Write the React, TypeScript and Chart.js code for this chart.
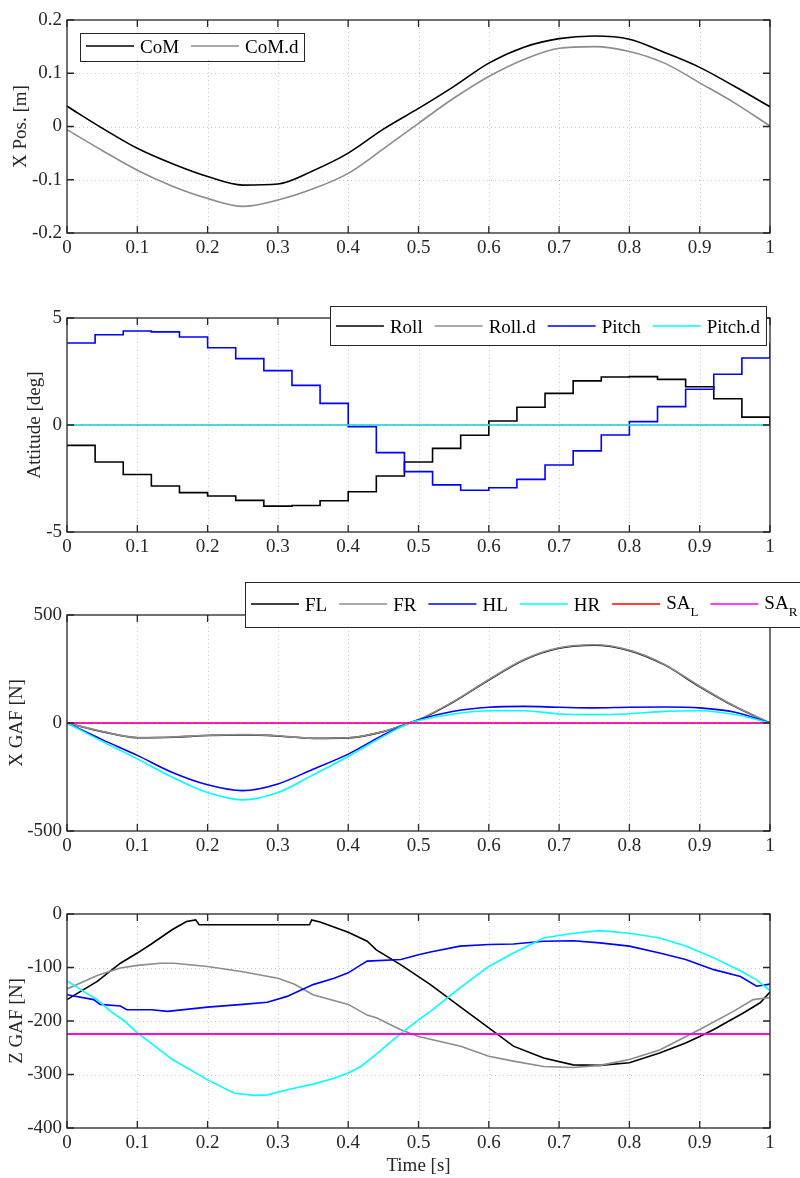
import React, { useEffect, useRef } from "react";
import { Chart, registerables } from "chart.js";

Chart.register(...registerables);

const FONT = '"Liberation Serif", "Times New Roman", Times, serif';
const INK = "#262626";

// ---------------- shared x axis ----------------
const timeTickLabels = ["0", "0.1", "0.2", "0.3", "0.4", "0.5", "0.6", "0.7", "0.8", "0.9", "1"];

// ---------------- panel 1 : X position ----------------
const comTime = [0, 0.05, 0.1, 0.15, 0.2, 0.25, 0.3, 0.35, 0.4, 0.45, 0.5, 0.55, 0.6, 0.65, 0.7, 0.75, 0.8, 0.85, 0.9, 0.95, 1];
const comActual = [0.038, -0.003, -0.041, -0.070, -0.094, -0.110, -0.108, -0.083, -0.050, -0.005, 0.034, 0.075, 0.119, 0.149, 0.165, 0.170, 0.164, 0.139, 0.111, 0.075, 0.037];
const comDesired = [-0.006, -0.045, -0.082, -0.112, -0.135, -0.150, -0.138, -0.117, -0.088, -0.042, 0.006, 0.053, 0.094, 0.126, 0.147, 0.150, 0.141, 0.119, 0.082, 0.044, 0.001];
const posTickLabels = ["-0.2", "-0.1", "0", "0.1", "0.2"];

// ---------------- panel 2 : attitude ----------------
const stepTime = [0, 0.04, 0.08, 0.12, 0.16, 0.2, 0.24, 0.28, 0.32, 0.36, 0.4, 0.44, 0.48, 0.52, 0.56, 0.6, 0.64, 0.68, 0.72, 0.76, 0.8, 0.84, 0.88, 0.92, 0.96, 1];
const roll = [-0.95, -1.73, -2.31, -2.85, -3.16, -3.32, -3.52, -3.79, -3.76, -3.54, -3.12, -2.38, -1.73, -1.09, -0.48, 0.19, 0.83, 1.48, 2.06, 2.24, 2.26, 2.13, 1.79, 1.23, 0.37, 0.0];
const pitch = [3.83, 4.22, 4.39, 4.35, 4.11, 3.61, 3.10, 2.54, 1.85, 1.01, -0.08, -1.29, -2.18, -2.80, -3.05, -2.93, -2.54, -1.87, -1.21, -0.47, 0.16, 0.86, 1.67, 2.37, 3.13, 3.85];
const refTime = [0, 1];
const rollDesired = [0, 0];
const pitchDesired = [0, 0];
const attTickLabels = ["-5", "0", "5"];

// ---------------- panel 3 : X GAF ----------------
const gafXTime = [0, 0.05, 0.1, 0.15, 0.2, 0.25, 0.3, 0.35, 0.4, 0.45, 0.487, 0.5, 0.55, 0.6, 0.65, 0.7, 0.75, 0.8, 0.85, 0.9, 0.95, 1];
const gafXFL = [0, -40, -68, -66, -58, -55, -60, -71, -69, -40, 0, 14, 98, 199, 292, 346, 360, 335, 269, 168, 76, 0];
const gafXFR = [0, -39, -67, -65, -57, -54, -59, -70, -68, -39, 0, 15, 100, 201, 294, 348, 362, 337, 271, 170, 77, 0];
const gafXHL = [0, -77, -150, -229, -286, -313, -282, -214, -144, -55, 0, 15, 54, 73, 77, 73, 70, 73, 74, 70, 50, 0];
const gafXHR = [0, -85, -166, -251, -322, -356, -322, -240, -155, -62, 0, 12, 42, 57, 57, 42, 39, 43, 54, 57, 39, 0];
const gafXSATime = [0, 1];
const gafXSAL = [0, 0];
const gafXSAR = [0, 0];
const gafXTickLabels = ["-500", "0", "500"];

// ---------------- panel 4 : Z GAF ----------------
const zFLTime = [0, 0.043, 0.076, 0.1, 0.12, 0.15, 0.17, 0.183, 0.188, 0.345, 0.348, 0.36, 0.4, 0.427, 0.44, 0.475, 0.517, 0.559, 0.6, 0.635, 0.678, 0.72, 0.758, 0.8, 0.843, 0.88, 0.9, 0.92, 0.962, 0.986, 1];
const zFL = [-160, -126, -92, -73, -56, -29, -14, -11, -20, -20, -11, -15, -34, -51, -67, -95, -132, -173, -213, -247, -269, -282, -283, -278, -260, -241, -229, -216, -185, -166, -146];
const zFRTime = [0, 0.043, 0.076, 0.1, 0.133, 0.152, 0.2, 0.25, 0.3, 0.323, 0.35, 0.4, 0.427, 0.44, 0.474, 0.5, 0.56, 0.6, 0.635, 0.678, 0.72, 0.758, 0.8, 0.843, 0.9, 0.948, 0.976, 1];
const zFR = [-140, -115, -101, -96, -92, -92, -98, -108, -120, -131, -151, -169, -189, -194, -216, -229, -247, -266, -275, -285, -287, -283, -272, -254, -216, -182, -160, -156];
const zHLTime = [0, 0.038, 0.047, 0.076, 0.085, 0.12, 0.143, 0.2, 0.25, 0.285, 0.313, 0.35, 0.38, 0.4, 0.418, 0.427, 0.475, 0.5, 0.517, 0.559, 0.6, 0.635, 0.678, 0.72, 0.758, 0.8, 0.843, 0.88, 0.92, 0.958, 0.981, 1];
const zHL = [-151, -160, -169, -172, -179, -179, -182, -174, -169, -165, -154, -132, -120, -110, -95, -88, -85, -76, -71, -60, -57, -56, -51, -50, -54, -60, -73, -85, -104, -117, -135, -131];
const zHRTime = [0, 0.024, 0.043, 0.062, 0.081, 0.1, 0.119, 0.15, 0.2, 0.238, 0.266, 0.285, 0.318, 0.35, 0.38, 0.4, 0.418, 0.44, 0.474, 0.5, 0.517, 0.559, 0.6, 0.635, 0.678, 0.72, 0.758, 0.8, 0.843, 0.88, 0.92, 0.958, 0.981, 1];
const zHR = [-125, -145, -160, -182, -199, -222, -241, -272, -310, -335, -339, -338, -327, -318, -307, -297, -285, -262, -224, -198, -182, -138, -98, -73, -45, -36, -31, -36, -45, -60, -82, -106, -123, -143];
const zSATime = [0, 1];
const zSAL = [-224, -224];
const zSAR = [-224, -224];
const gafZTickLabels = ["-400", "-300", "-200", "-100", "0"];

// ---------------- helpers ----------------
type Series = {
  label: string;
  t: number[];
  v: number[];
  color: string;
  stepped?: boolean;
  smooth?: boolean;
  dash?: number[];
};

type LegendSpec = { left?: number; right?: number; top: number; height: number; lineY: number };

type PanelSpec = {
  top: number;
  height: number;
  padTop: number;
  xAxisH: number;
  yMin: number;
  yMax: number;
  yTicks: string[];
  yTitle: string;
  yTitlePad: number;
  xTitle?: string;
  series: Series[];
  legend?: LegendSpec;
};

const pts = (t: number[], v: number[]) => t.map((x, i) => ({ x, y: v[i] }));

const framePlugin = {
  id: "matlabFrame",
  beforeDatasetsDraw(chart: any) {
    const { ctx, chartArea: a, scales } = chart;
    const x = scales.x;
    const y = scales.y;
    ctx.save();
    ctx.strokeStyle = "rgba(38,38,38,0.25)";
    ctx.lineWidth = 1;
    ctx.setLineDash([1, 3]);
    ctx.beginPath();
    for (const t of x.ticks) {
      const p = Math.round(x.getPixelForValue(t.value)) + 0.5;
      if (p <= a.left + 1 || p >= a.right - 1) continue;
      ctx.moveTo(p, a.top);
      ctx.lineTo(p, a.bottom);
    }
    for (const t of y.ticks) {
      const p = Math.round(y.getPixelForValue(t.value)) + 0.5;
      if (p <= a.top + 1 || p >= a.bottom - 1) continue;
      ctx.moveTo(a.left, p);
      ctx.lineTo(a.right, p);
    }
    ctx.stroke();
    ctx.restore();
  },
  afterDatasetsDraw(chart: any, _args: any, opts: any) {
    const { ctx, chartArea: a, scales } = chart;
    const x = scales.x;
    const y = scales.y;
    const TL = 7;
    ctx.save();
    ctx.setLineDash([]);
    ctx.strokeStyle = INK;
    ctx.lineWidth = 1.3;
    ctx.strokeRect(a.left, a.top, a.right - a.left, a.bottom - a.top);
    ctx.beginPath();
    for (const t of x.ticks) {
      const p = x.getPixelForValue(t.value);
      ctx.moveTo(p, a.bottom);
      ctx.lineTo(p, a.bottom - TL);
      ctx.moveTo(p, a.top);
      ctx.lineTo(p, a.top + TL);
    }
    for (const t of y.ticks) {
      const p = y.getPixelForValue(t.value);
      ctx.moveTo(a.left, p);
      ctx.lineTo(a.left + TL, p);
      ctx.moveTo(a.right, p);
      ctx.lineTo(a.right - TL, p);
    }
    ctx.stroke();

    const lg: LegendSpec | undefined = opts.legend;
    if (lg) {
      const dy = opts.canvasTop;
      const mainFont = `19px ${FONT}`;
      const subFont = `13px ${FONT}`;
      const items = chart.data.datasets.map((ds: any) => {
        const [m, s] = String(ds.label).split("_");
        ctx.font = mainFont;
        const wm = ctx.measureText(m).width;
        ctx.font = subFont;
        const ws = s ? ctx.measureText(s).width : 0;
        return { m, s, wm, ws, color: ds.borderColor };
      });
      const LINE = 48, GAP = 6, SPACE = 12, PAD = 6;
      const total =
        PAD * 2 +
        items.reduce((acc: number, it: any) => acc + LINE + GAP + it.wm + it.ws, 0) +
        SPACE * (items.length - 1);
      const left = lg.left !== undefined ? lg.left : (lg.right as number) - total;
      const top = lg.top - dy;
      ctx.fillStyle = "#ffffff";
      ctx.fillRect(left, top, total, lg.height);
      ctx.strokeStyle = INK;
      ctx.lineWidth = 1;
      ctx.strokeRect(Math.round(left) + 0.5, Math.round(top) + 0.5, Math.round(total), Math.round(lg.height));
      const ly = lg.lineY - dy;
      let cx = left + PAD;
      for (const it of items) {
        ctx.strokeStyle = it.color;
        ctx.lineWidth = 1.6;
        ctx.beginPath();
        ctx.moveTo(cx, ly);
        ctx.lineTo(cx + LINE, ly);
        ctx.stroke();
        cx += LINE + GAP;
        ctx.fillStyle = "#000000";
        ctx.textAlign = "left";
        ctx.textBaseline = "alphabetic";
        ctx.font = mainFont;
        if (it.s) {
          ctx.fillText(it.m, cx, ly + 5);
          ctx.font = subFont;
          ctx.fillText(it.s, cx + it.wm, ly + 12);
        } else {
          ctx.fillText(it.m, cx, ly + 7);
        }
        cx += it.wm + it.ws + SPACE;
      }
    }
    ctx.restore();
  },
};

function buildConfig(spec: PanelSpec) {
  const tickFont = { family: FONT, size: 19 };
  return {
    type: "line",
    data: {
      datasets: spec.series.map((s, i) => ({
        label: s.label,
        data: pts(s.t, s.v),
        borderColor: s.color,
        backgroundColor: s.color,
        borderWidth: 1.6,
        borderDash: s.dash || [],
        pointRadius: 0,
        fill: false,
        stepped: s.stepped ? "before" : false,
        tension: 0,
        cubicInterpolationMode: s.smooth ? "monotone" : "default",
        order: -i,
      })),
    },
    options: {
      responsive: false,
      animation: false,
      events: [],
      layout: { padding: { top: spec.padTop, right: 30, left: 0, bottom: 0 } },
      plugins: {
        legend: { display: false },
        tooltip: { enabled: false },
        matlabFrame: { legend: spec.legend, canvasTop: spec.top },
      },
      scales: {
        x: {
          type: "linear",
          min: 0,
          max: 1,
          afterBuildTicks: (scale: any) => {
            scale.ticks = timeTickLabels.map((l) => ({ value: Number(l) }));
          },
          afterFit: (scale: any) => {
            scale.height = spec.xAxisH;
          },
          ticks: {
            autoSkip: false,
            maxRotation: 0,
            padding: 4,
            color: INK,
            font: tickFont,
            callback: (_v: any, i: number) => timeTickLabels[i],
          },
          grid: { display: false, drawTicks: false },
          border: { display: false },
          title: spec.xTitle
            ? { display: true, text: spec.xTitle, color: INK, font: tickFont, padding: { top: 0, bottom: 1 } }
            : { display: false },
        },
        y: {
          type: "linear",
          min: spec.yMin,
          max: spec.yMax,
          afterBuildTicks: (scale: any) => {
            scale.ticks = spec.yTicks.map((l) => ({ value: Number(l) }));
          },
          afterFit: (scale: any) => {
            scale.width = 67;
          },
          ticks: {
            autoSkip: false,
            padding: 5,
            color: INK,
            font: tickFont,
            callback: (_v: any, i: number) => spec.yTicks[i],
          },
          grid: { display: false, drawTicks: false },
          border: { display: false },
          title: {
            display: true,
            text: spec.yTitle,
            color: INK,
            font: tickFont,
            padding: { top: spec.yTitlePad, bottom: 0 },
          },
        },
      },
    },
    plugins: [framePlugin],
  };
}

const panels: PanelSpec[] = [
  {
    top: 0,
    height: 280,
    padTop: 20,
    xAxisH: 47,
    yMin: -0.2,
    yMax: 0.2,
    yTicks: posTickLabels,
    yTitle: "X Pos. [m]",
    yTitlePad: 10,
    series: [
      { label: "CoM", t: comTime, v: comActual, color: "#000000", smooth: true },
      { label: "CoM.d", t: comTime, v: comDesired, color: "#8c8c8c", smooth: true },
    ],
    legend: { left: 80, top: 32.5, height: 27.5, lineY: 46 },
  },
  {
    top: 280,
    height: 290,
    padTop: 38,
    xAxisH: 38,
    yMin: -5,
    yMax: 5,
    yTicks: attTickLabels,
    yTitle: "Attitude [deg]",
    yTitlePad: 24,
    series: [
      { label: "Roll", t: stepTime, v: roll, color: "#000000", stepped: true },
      { label: "Roll.d", t: refTime, v: rollDesired, color: "#8c8c8c" },
      { label: "Pitch", t: stepTime, v: pitch, color: "#0000ff", stepped: true },
      { label: "Pitch.d", t: refTime, v: pitchDesired, color: "#00ffff", dash: [6, 2] },
    ],
    legend: { right: 766, top: 306, height: 39, lineY: 326 },
  },
  {
    top: 570,
    height: 310,
    padTop: 45,
    xAxisH: 49,
    yMin: -500,
    yMax: 500,
    yTicks: gafXTickLabels,
    yTitle: "X GAF [N]",
    yTitlePad: 6,
    series: [
      { label: "FL", t: gafXTime, v: gafXFL, color: "#000000", smooth: true },
      { label: "FR", t: gafXTime, v: gafXFR, color: "#8c8c8c", smooth: true },
      { label: "HL", t: gafXTime, v: gafXHL, color: "#0000ff", smooth: true },
      { label: "HR", t: gafXTime, v: gafXHR, color: "#00ffff", smooth: true },
      { label: "SA_L", t: gafXSATime, v: gafXSAL, color: "#ff0000" },
      { label: "SA_R", t: gafXSATime, v: gafXSAR, color: "#ff00ff", dash: [5, 2] },
    ],
    legend: { left: 245, top: 582, height: 45, lineY: 604 },
  },
  {
    top: 880,
    height: 298,
    padTop: 34,
    xAxisH: 50,
    yMin: -400,
    yMax: 0,
    yTicks: gafZTickLabels,
    yTitle: "Z GAF [N]",
    yTitlePad: 6,
    xTitle: "Time [s]",
    series: [
      { label: "FL", t: zFLTime, v: zFL, color: "#000000" },
      { label: "FR", t: zFRTime, v: zFR, color: "#8c8c8c" },
      { label: "HL", t: zHLTime, v: zHL, color: "#0000ff" },
      { label: "HR", t: zHRTime, v: zHR, color: "#00ffff" },
      { label: "SA_L", t: zSATime, v: zSAL, color: "#ff0000" },
      { label: "SA_R", t: zSATime, v: zSAR, color: "#ff00ff" },
    ],
  },
];

function Panel({ spec }: { spec: PanelSpec }) {
  const ref = useRef<HTMLCanvasElement>(null);
  useEffect(() => {
    const chart = new Chart(ref.current as HTMLCanvasElement, buildConfig(spec) as any);
    return () => chart.destroy();
  }, [spec]);
  return (
    <canvas
      ref={ref}
      width={800}
      height={spec.height}
      style={{ position: "absolute", left: 0, top: spec.top, width: 800, height: spec.height, display: "block" }}
    />
  );
}

export default function App() {
  return (
    <div style={{ position: "absolute", left: 0, top: 0, width: 800, height: 1178, background: "#ffffff", overflow: "hidden" }}>
      {panels.map((p, i) => (
        <Panel key={i} spec={p} />
      ))}
    </div>
  );
}
